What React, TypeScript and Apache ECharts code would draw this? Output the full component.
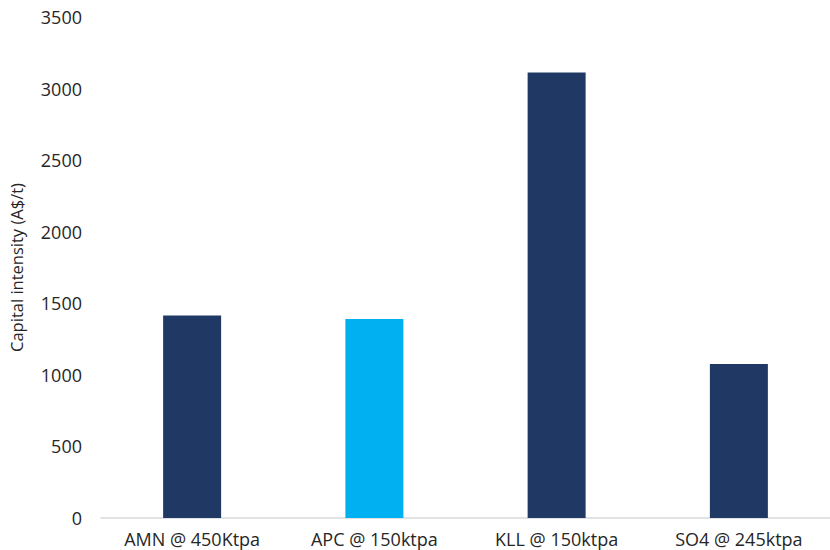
import React, { useEffect, useRef } from "react";
import * as echarts from "echarts";

const categories = ["AMN @ 450Ktpa", "APC @ 150ktpa", "KLL @ 150ktpa", "SO4 @ 245ktpa"];
const values = [1415, 1390, 3112, 1075];
const barColors = ["#203864", "#00B0F0", "#203864", "#203864"];
const yTicks = { min: 0, max: 3500, interval: 500 };
const yName = "Capital intensity (A$/t)";

export default function App() {
  const ref = useRef<HTMLDivElement>(null);
  useEffect(() => {
    if (!ref.current) return;
    const chart = echarts.init(ref.current, null, { renderer: "svg" });
    const font = "'Open Sans', 'Noto Sans', sans-serif";
    chart.setOption({
      animation: false,
      textStyle: { fontFamily: font },
      grid: { left: 100, right: -4, top: 17, bottom: 32, containLabel: false },
      xAxis: {
        type: "category",
        data: categories,
        axisLine: { show: true, lineStyle: { color: "#d9d9d9", width: 1.5 } },
        axisTick: { show: false },
        axisLabel: { color: "#262626", fontSize: 18, fontFamily: font, margin: 12 },
      },
      yAxis: {
        type: "value",
        min: yTicks.min,
        max: yTicks.max,
        interval: yTicks.interval,
        name: yName,
        nameLocation: "middle",
        nameGap: 76,
        nameTextStyle: { color: "#262626", fontSize: 16.5, fontFamily: font },
        axisLine: { show: false },
        axisTick: { show: false },
        splitLine: { show: false },
        axisLabel: {
          color: "#262626",
          fontSize: 18,
          fontFamily: font,
          margin: 19,
          formatter: (v: number) => String(v),
        },
      },
      series: [
        {
          type: "bar",
          data: values.map((v, i) => ({ value: v, itemStyle: { color: barColors[i] } })),
          barWidth: 58,
        },
      ],
    });
    return () => chart.dispose();
  }, []);
  return <div ref={ref} style={{ width: 830, height: 550, position: "absolute", left: 0, top: 0 }} />;
}
